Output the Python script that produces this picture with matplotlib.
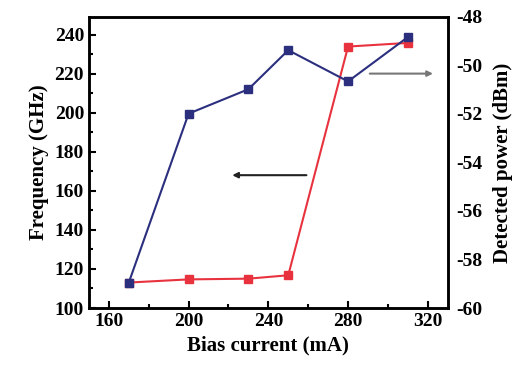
import matplotlib.pyplot as plt
from matplotlib.ticker import MultipleLocator

current = [170, 200, 230, 250, 280, 310]
frequency = [113, 199.5, 212, 232, 216, 238.7]
power = [-58.95, -58.82, -58.79, -58.65, -49.22, -49.07]

plt.rcParams["font.family"] = ["Liberation Serif", "DejaVu Serif"]
plt.rcParams["font.weight"] = "bold"
plt.rcParams["axes.unicode_minus"] = False

fig = plt.figure(figsize=(5.2, 3.77), dpi=100)
ax = fig.add_axes([0.171, 0.183, 0.69, 0.772])
ax2 = ax.twinx()

ax2.plot(current, power, color="#e8333f", marker="s", markersize=6, linewidth=1.5)
ax.plot(current, frequency, color="#2b2f7e", marker="s", markersize=6, linewidth=1.5)
ax.set_zorder(ax2.get_zorder() + 1)
ax.patch.set_visible(False)

ax.set_xlim(150, 330)
ax.set_ylim(100, 249)
ax2.set_ylim(-60, -48)

ax.xaxis.set_major_locator(MultipleLocator(40))
ax.xaxis.set_minor_locator(MultipleLocator(20))
ax.yaxis.set_major_locator(MultipleLocator(20))
ax.yaxis.set_minor_locator(MultipleLocator(10))
ax2.yaxis.set_major_locator(MultipleLocator(2))

ax.tick_params(which="both", direction="in", labelsize=14, width=1.5)
ax.tick_params(which="major", length=5)
ax.tick_params(which="minor", length=3)
ax2.tick_params(which="both", direction="in", labelsize=14, length=0, pad=6)
for a in (ax, ax2):
    for s in a.spines.values():
        s.set_linewidth(1.8)

ax.set_xlabel("Bias current (mA)", fontsize=15, fontweight="bold")
ax.set_ylabel("Frequency (GHz)", fontsize=15, fontweight="bold")
ax2.set_ylabel("Detected power (dBm)", fontsize=15, fontweight="bold", labelpad=8)

ax.annotate("", xy=(220.5, 168), xytext=(260.5, 168),
            arrowprops=dict(arrowstyle="-|>", color="#222222", lw=1.5, mutation_scale=8))
ax.annotate("", xy=(324, 220), xytext=(289.5, 220),
            arrowprops=dict(arrowstyle="-|>", color="#777777", lw=1.5, mutation_scale=8))

fig.savefig("out.png", dpi=100)
